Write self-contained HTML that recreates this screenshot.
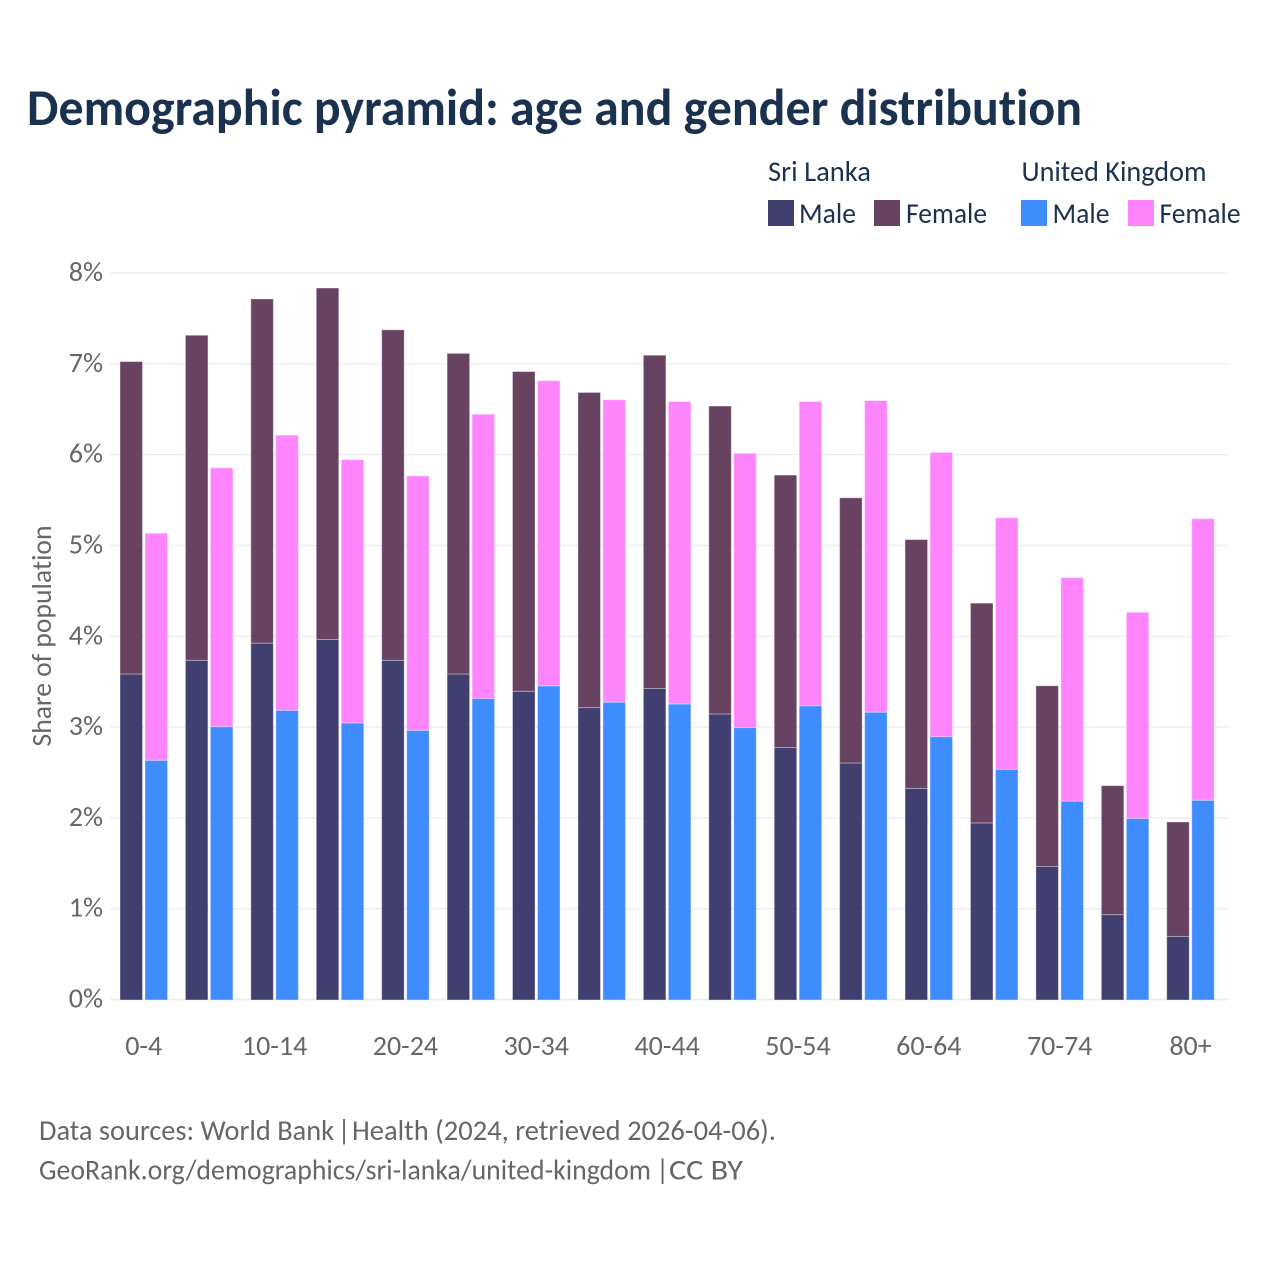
<!DOCTYPE html>
<html lang="en">
<head>
<meta charset="utf-8">
<title>Demographic pyramid: age and gender distribution</title>
<style>
html,body{margin:0;padding:0;background:#fff;width:1280px;height:1280px;overflow:hidden}
svg{display:block}
text{font-family:"Carlito","Liberation Sans",sans-serif;font-variant-ligatures:none}
</style>
</head>
<body>
<svg id="chart" xmlns="http://www.w3.org/2000/svg" width="1280" height="1280" viewBox="0 0 1280 1280">
  <text x="27" y="125" font-size="52" font-weight="700" fill="#1a3150" textLength="1055" lengthAdjust="spacingAndGlyphs">Demographic pyramid: age and gender distribution</text>

  <g>
    <text x="768" y="181" font-size="28.5" fill="#1a3150" textLength="103" lengthAdjust="spacingAndGlyphs">Sri Lanka</text>
    <text x="1021.5" y="181" font-size="28.5" fill="#1a3150" textLength="185" lengthAdjust="spacingAndGlyphs">United Kingdom</text>
    <rect x="768" y="200" width="26" height="26" fill="#413e70"/>
    <text x="799" y="223" font-size="28.5" fill="#1a3150" textLength="57" lengthAdjust="spacingAndGlyphs">Male</text>
    <rect x="874" y="200" width="26" height="26" fill="#684261"/>
    <text x="906" y="223" font-size="28.5" fill="#1a3150" textLength="81" lengthAdjust="spacingAndGlyphs">Female</text>
    <rect x="1021" y="200" width="26" height="26" fill="#3f8cff"/>
    <text x="1052.5" y="223" font-size="28.5" fill="#1a3150" textLength="57" lengthAdjust="spacingAndGlyphs">Male</text>
    <rect x="1128" y="200" width="26" height="26" fill="#ff85ff"/>
    <text x="1159.5" y="223" font-size="28.5" fill="#1a3150" textLength="81" lengthAdjust="spacingAndGlyphs">Female</text>
  </g>

  <g id="grid"></g>
  <g id="yticks"></g>
  <g id="bars" transform="translate(0,0.5)"></g>
  <g id="xticks"></g>

  <text transform="translate(51,636) rotate(-90)" text-anchor="middle" font-size="28" fill="#666" textLength="221" lengthAdjust="spacingAndGlyphs">Share of population</text>

  <text y="1140" font-size="28.5" fill="#666"><tspan x="39" textLength="295" lengthAdjust="spacingAndGlyphs">Data sources: World Bank</tspan> <tspan x="337.5">|</tspan> <tspan x="352" textLength="424" lengthAdjust="spacingAndGlyphs">Health (2024, retrieved 2026-04-06).</tspan></text>
  <text y="1179.5" font-size="28.5" fill="#666"><tspan x="39" textLength="612" lengthAdjust="spacingAndGlyphs">GeoRank.org/demographics/sri-lanka/united-kingdom</tspan> <tspan x="656">|</tspan> <tspan x="669" textLength="74" lengthAdjust="spacingAndGlyphs">CC BY</tspan></text>
</svg>
<script>
const ageGroups = ["0-4","5-9","10-14","15-19","20-24","25-29","30-34","35-39","40-44","45-49","50-54","55-59","60-64","65-69","70-74","75-79","80+"];
const sriLankaMale = [3.59,3.74,3.93,3.97,3.74,3.59,3.40,3.22,3.43,3.15,2.78,2.61,2.33,1.95,1.47,0.94,0.70];
const sriLankaFemale = [3.44,3.58,3.79,3.87,3.64,3.53,3.52,3.47,3.67,3.39,3.00,2.92,2.74,2.42,1.99,1.42,1.26];
const ukMale = [2.64,3.01,3.19,3.05,2.97,3.32,3.46,3.28,3.26,3.00,3.24,3.17,2.90,2.54,2.19,2.00,2.20];
const ukFemale = [2.50,2.85,3.03,2.90,2.80,3.13,3.36,3.33,3.33,3.02,3.35,3.43,3.13,2.77,2.46,2.27,3.10];
const yTicks = [0,1,2,3,4,5,6,7,8];

const NS = "http://www.w3.org/2000/svg";
const plotLeft = 110, plotRight = 1228, plotBottom = 999.5, plotTop = 273;
const yMax = 8;
const firstCenter = 143.75, lastCenter = 1190.5;

function yScale(v){ return plotBottom - (v / yMax) * (plotBottom - plotTop); }
function xCenter(i){ return firstCenter + i * (lastCenter - firstCenter) / (ageGroups.length - 1); }

const gridG = document.getElementById("grid");
const yG = document.getElementById("yticks");
const barsG = document.getElementById("bars");
const xG = document.getElementById("xticks");

yTicks.forEach(function(t){
  const line = document.createElementNS(NS, "line");
  
  
  line.setAttribute("x1", plotLeft);
  line.setAttribute("x2", plotRight);
  line.setAttribute("y1", yScale(t));
  line.setAttribute("y2", yScale(t));
  line.setAttribute("stroke", "#ececec");
  line.setAttribute("stroke-width", t === 0 ? 2 : 1.3);
  gridG.appendChild(line);

  const label = document.createElementNS(NS, "text");
  
  
  label.setAttribute("x", 103);
  label.setAttribute("y", yScale(t) + 8);
  label.setAttribute("text-anchor", "end");
  label.setAttribute("font-size", "28");
  label.setAttribute("fill", "#666");
  label.textContent = t + "%";
  yG.appendChild(label);
});

function addBar(x, w, base, value, fill, name){
  const r = document.createElementNS(NS, "rect");
  
  
  r.setAttribute("x", x);
  r.setAttribute("y", yScale(base + value));
  r.setAttribute("width", w);
  r.setAttribute("height", yScale(base) - yScale(base + value));
  r.setAttribute("fill", fill);
  r.setAttribute("stroke", "#ffffff");
  r.setAttribute("stroke-opacity", "0.35");
  r.setAttribute("stroke-width", "1");
  barsG.appendChild(r);
}

const barWidth = 22.5, barGap = 1.25;
ageGroups.forEach(function(group, i){
  const c = xCenter(i);
  const left = c - barGap - barWidth;
  const right = c + barGap;
  addBar(left, barWidth, 0, sriLankaMale[i], "#413e70", "bar-sri-lanka-male");
  addBar(left, barWidth, sriLankaMale[i], sriLankaFemale[i], "#684261", "bar-sri-lanka-female");
  addBar(right, barWidth, 0, ukMale[i], "#3f8cff", "bar-united-kingdom-male");
  addBar(right, barWidth, ukMale[i], ukFemale[i], "#ff85ff", "bar-united-kingdom-female");
  if (i % 2 === 0) {
    const label = document.createElementNS(NS, "text");
    
    
    label.setAttribute("x", c);
    label.setAttribute("y", 1055);
    label.setAttribute("text-anchor", "middle");
    label.setAttribute("font-size", "28");
    label.setAttribute("fill", "#666");
    label.textContent = group;
    xG.appendChild(label);
  }
});
</script>
</body>
</html>
